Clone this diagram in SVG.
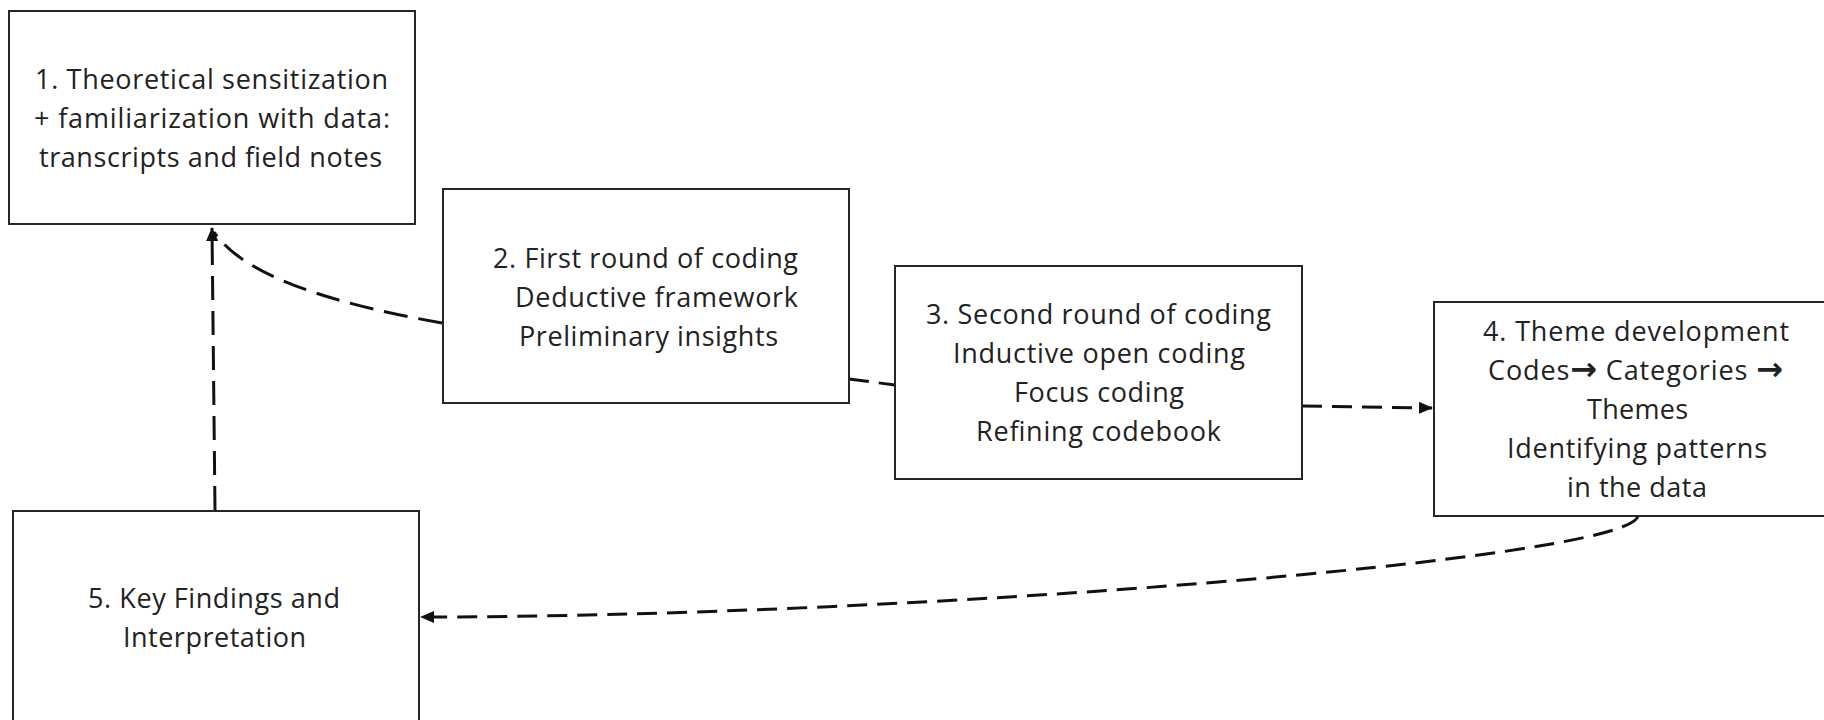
<svg xmlns="http://www.w3.org/2000/svg" width="1824" height="720" viewBox="0 0 1824 720">
<defs>
<style>
.box{fill:#fff;stroke:#262626;stroke-width:2}
.t{font-family:"Open Sans","Noto Sans","Liberation Sans",sans-serif;font-size:27px;fill:#222}
.ar{font-family:"DejaVu Sans",sans-serif;font-weight:bold;font-size:32px}
.c{fill:none;stroke:#111;stroke-width:3;stroke-dasharray:24 11}
.c2{fill:none;stroke:#111;stroke-width:3;stroke-dasharray:20 10}
</style>
<marker id="ah" markerUnits="userSpaceOnUse" markerWidth="14" markerHeight="12" refX="13" refY="6" orient="auto">
<path d="M0,0 L14,6 L0,12 Z" fill="#111"/>
</marker>
</defs>
<rect width="1824" height="720" fill="#fff"/>
<g id="connectors">
<path class="c" d="M215,510 L212,228" marker-end="url(#ah)"/>
<path class="c" d="M442,323 C340,305 245,278 214,232"/>
<path class="c2" d="M849,379 L895,385"/>
<path class="c2" d="M1302,406 L1432,408" marker-end="url(#ah)"/>
<path class="c2" d="M1638,516 C1630,560 900,617 421,617" marker-end="url(#ah)"/>
</g>
<g id="node1">
<rect class="box" x="9" y="11" width="406" height="213"/>
<text class="t" x="35" y="89" textLength="353" lengthAdjust="spacing">1. Theoretical sensitization</text>
<text class="t" x="34" y="128" textLength="356" lengthAdjust="spacing">+ familiarization with data:</text>
<text class="t" x="39" y="167" textLength="343" lengthAdjust="spacing">transcripts and field notes</text>
</g>
<g id="node2">
<rect class="box" x="443" y="189" width="406" height="214"/>
<text class="t" x="493" y="268" textLength="305" lengthAdjust="spacing">2. First round of coding</text>
<text class="t" x="515" y="307" textLength="283" lengthAdjust="spacing">Deductive framework</text>
<text class="t" x="519" y="346" textLength="259" lengthAdjust="spacing">Preliminary insights</text>
</g>
<g id="node3">
<rect class="box" x="895" y="266" width="407" height="213"/>
<text class="t" x="926" y="324" textLength="345" lengthAdjust="spacing">3. Second round of coding</text>
<text class="t" x="953" y="363" textLength="292" lengthAdjust="spacing">Inductive open coding</text>
<text class="t" x="1014" y="402" textLength="170" lengthAdjust="spacing">Focus coding</text>
<text class="t" x="976" y="441" textLength="245" lengthAdjust="spacing">Refining codebook</text>
</g>
<g id="node4">
<rect class="box" x="1434" y="302" width="406" height="214"/>
<text class="t" x="1483" y="341" textLength="306" lengthAdjust="spacing">4. Theme development</text>
<text class="t" x="1488" y="380" textLength="295" lengthAdjust="spacing">Codes<tspan class="ar">→</tspan> Categories <tspan class="ar">→</tspan></text>
<text class="t" x="1587" y="419" textLength="101" lengthAdjust="spacing">Themes</text>
<text class="t" x="1507" y="458" textLength="260" lengthAdjust="spacing">Identifying patterns</text>
<text class="t" x="1567" y="497" textLength="140" lengthAdjust="spacing">in the data</text>
</g>
<g id="node5">
<rect class="box" x="13" y="511" width="406" height="214"/>
<text class="t" x="88" y="608" textLength="252" lengthAdjust="spacing">5. Key Findings and</text>
<text class="t" x="123" y="647" textLength="183" lengthAdjust="spacing">Interpretation</text>
</g>
</svg>
